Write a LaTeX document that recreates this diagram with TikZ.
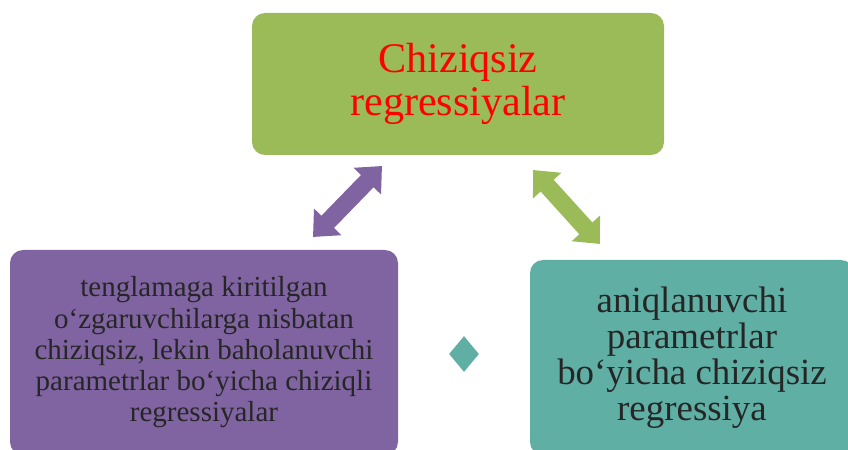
\documentclass[tikz,border=0pt]{standalone}
\usepackage{fontspec}
\setmainfont{Liberation Serif}
\usetikzlibrary{arrows.meta,shapes.geometric}

\definecolor{boxgreen}{HTML}{9BBB59}
\definecolor{boxpurple}{HTML}{8064A2}
\definecolor{boxteal}{HTML}{60AFA5}
\definecolor{textdark}{HTML}{262626}

\begin{document}
\begin{tikzpicture}[>=Stealth,
    regbox/.style={rounded corners=0.26cm,align=center,inner sep=0pt},
    dblarrow/.style={line width=10pt,
      {Triangle[width=21pt,length=12pt]}-{Triangle[width=21pt,length=12pt]}}]
  \useasboundingbox (0,0) rectangle (16.96,9);
  \clip (0,0) rectangle (16.96,9);
  % three boxes
  \node[regbox,fill=boxgreen,minimum width=8.24cm,minimum height=2.84cm,
        text=red,font=\fontsize{24}{24}\selectfont] (top) at (9.16,7.32)
    {Chiziqsiz\\regressiyalar};
  \node[regbox,fill=boxpurple,minimum width=7.76cm,minimum height=4.1cm,
        text=textdark,font=\fontsize{16.5}{17.8}\selectfont] (left) at (4.08,1.95)
    {tenglamaga kiritilgan\\o‘zgaruvchilarga nisbatan\\chiziqsiz, lekin baholanuvchi\\parametrlar bo‘yicha chiziqli\\regressiyalar};
  \node[regbox,fill=boxteal,minimum width=6.48cm,minimum height=3.9cm,
        text=textdark,font=\fontsize{21}{20.5}\selectfont] (right) at (13.84,1.85)
    {aniqlanuvchi\\parametrlar\\bo‘yicha chiziqsiz\\regressiya};
  % small diamond between the lower boxes
  \node[diamond,fill=boxteal,minimum width=0.6cm,minimum height=0.72cm,
        inner sep=0pt] (mark) at (9.28,1.92) {};
  % double arrows
  \coordinate (la) at (6.26,4.26);
  \coordinate (lb) at (7.64,5.68);
  \coordinate (ra) at (10.66,5.60);
  \coordinate (rb) at (12.00,4.12);
  \draw[dblarrow,boxpurple] (la) -- (lb);
  \draw[dblarrow,boxgreen] (ra) -- (rb);
\end{tikzpicture}
\end{document}
